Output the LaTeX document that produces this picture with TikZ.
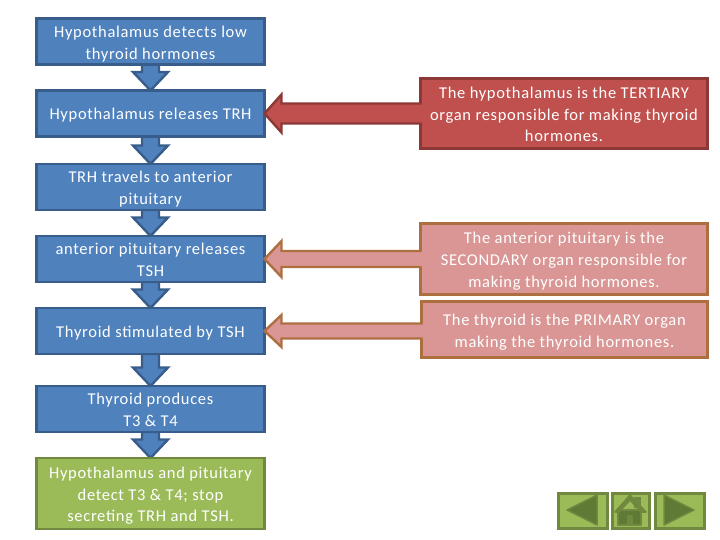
\documentclass[tikz,border=0pt]{standalone}
\usepackage{fontspec}
\setmainfont[LetterSpace=4.2]{Carlito}
\usetikzlibrary{calc, backgrounds}
\definecolor{myblue}{HTML}{4F81BD}
\definecolor{mybluedark}{HTML}{385D8A}
\definecolor{myred}{HTML}{C0504D}
\definecolor{myreddark}{HTML}{8C3836}
\definecolor{mypink}{HTML}{D99694}
\definecolor{mypinkdark}{HTML}{AD6F40}
\definecolor{mygreen}{HTML}{9BBB59}
\definecolor{mygreendark}{HTML}{71893F}
\definecolor{mygreendeep}{HTML}{5F7A35}
\tikzset{
  boxtext/.style={text=white, align=center, outer sep=0pt, inner sep=0pt, font=\fontsize{16.5}{21.8}\selectfont},
  oneline/.style={text height=16pt, text depth=3.5pt},
  twolines/.style={text height=38.6pt, text depth=3.5pt},
  threelines/.style={text height=60.2pt, text depth=3.5pt},
  flowbox/.style={boxtext, draw=mybluedark, fill=myblue, line width=2.4pt, minimum width=228pt},
  stopbox/.style={flowbox, draw=mygreendark, fill=mygreen},
  organbox/.style={boxtext, draw=#1dark, fill=#1, line width=2.4pt},
  navbox/.style={draw=mygreendark, fill=mygreen, line width=3pt, outer sep=0pt, inner sep=0pt},
  navmark/.style={fill=mygreendeep, draw=mygreendark, line width=1.5pt, line join=round},
}
% block arrow going down between two boxes
\newcommand{\downblock}[2]{
  \draw[draw=mybluedark, fill=myblue, line width=2.4pt, line join=miter]
    ($(#1.south)+(-8.5,0)$) -- ($(#2.north)+(-8.5,-18.5)$) -- ($(#2.north)+(-17.5,-18.5)$) -- (#2.north)
    -- ($(#2.north)+(17.5,-18.5)$) -- ($(#2.north)+(8.5,-18.5)$) -- ($(#1.south)+(8.5,0)$) -- cycle;
}
% block arrow going left, tail open inside the organ box
% #1 from, #2 to, #3 colour, #4 half shaft, #5 half head
\newcommand{\leftblock}[5]{
  \coordinate (tip) at (#2.east);
  \fill[#3] (tip) -- ++(17,-#5) -- ++(0,#5-#4) -- ($(tip-|#1.west)+(4,-#4)$) -- ($(tip-|#1.west)+(4,#4)$)
    -- ($(tip)+(17,#4)$) -- ($(tip)+(17,#5)$) -- cycle;
  \draw[#3dark, line width=2.4pt, line join=miter] ($(tip-|#1.west)+(1,-#4)$) -- ($(tip)+(17,-#4)$) -- ($(tip)+(17,-#5)$)
    -- (tip) -- ($(tip)+(17,#5)$) -- ($(tip)+(17,#4)$) -- ($(tip-|#1.west)+(1,#4)$);
}
\begin{document}
\begin{tikzpicture}[x=1pt, y=-1pt]
\useasboundingbox (0,0) rectangle (720,540);

\node[flowbox, twolines, minimum height=46pt] (detect) at (150.5,41.5) {Hypothalamus detects low\\thyroid hormones};
\node[flowbox, oneline, minimum height=46pt] (release) at (150.5,113.5) {Hypothalamus releases TRH};
\node[flowbox, twolines, minimum height=46pt] (travel) at (150.5,187) {TRH travels to anterior\\pituitary};
\node[flowbox, twolines, minimum height=46pt] (pituitary) at (150.5,259) {anterior pituitary releases\\TSH};
\node[flowbox, oneline, minimum height=46pt] (stimulate) at (150.5,331) {Thyroid stimulated by TSH};
\node[flowbox, twolines, minimum height=46pt] (produce) at (150.5,409) {Thyroid produces\\T3 \& T4};
\node[stopbox, threelines, minimum height=71pt] (stop) at (150.5,493.5) {Hypothalamus and pituitary\\detect T3 \& T4; stop\\secreting TRH and TSH.};

\node[organbox=myred, threelines, minimum width=287pt, minimum height=70pt] (tertiary) at (564,113.5)
  {The hypothalamus is the TERTIARY\\organ responsible for making thyroid\\hormones.};
\node[organbox=mypink, threelines, minimum width=287pt, minimum height=71pt] (secondary) at (564,259)
  {The anterior pituitary is the\\SECONDARY organ responsible for\\making thyroid hormones.};
\node[organbox=mypink, twolines, minimum width=286pt, minimum height=56pt] (primary) at (564.5,329.5)
  {The thyroid is the PRIMARY organ\\making the thyroid hormones.};

\begin{scope}[on background layer]
 %flow arrows
 \downblock{detect}{release}
 \downblock{release}{travel}
 \downblock{travel}{pituitary}
 \downblock{pituitary}{stimulate}
 \downblock{stimulate}{produce}
 \downblock{produce}{stop}
\end{scope}

\leftblock{tertiary}{release}{myred}{10}{19}
\leftblock{secondary}{pituitary}{mypink}{8}{18}
\leftblock{primary}{stimulate}{mypink}{7.5}{16}

 %buttons
\node[navbox, minimum width=49pt, minimum height=35pt] (back) at (582.5,510.5) {};
\node[navbox, minimum width=37pt, minimum height=35pt] (home) at (630.5,510.5) {};
\node[navbox, minimum width=49pt, minimum height=35pt] (next) at (679.5,510.5) {};
\draw[navmark] (567,510) -- (597,495) -- (597,525) -- cycle;
\draw[navmark] (694,510) -- (664,495) -- (664,525) -- cycle;
\fill[mygreendark] (634,497) rectangle (641,508);
\draw[navmark] (618,510) rectangle (641,525);
\fill[mygreendark] (627,515) rectangle (633,525);
\draw[navmark, fill=mygreendark] (615,512) -- (630,495) -- (646,512) -- (641,512) -- (630,500) -- (619,512) -- cycle;
\end{tikzpicture}
\end{document}
